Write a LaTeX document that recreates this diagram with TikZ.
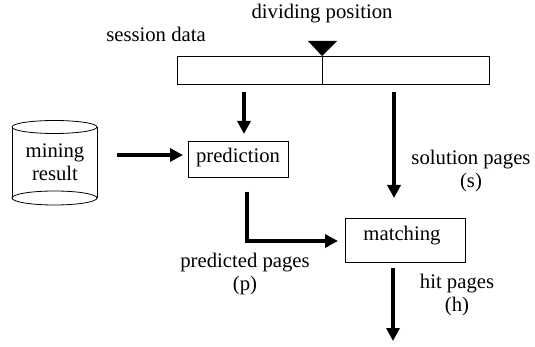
\documentclass[tikz,border=0pt]{standalone}
\usepackage{fontspec}
\setmainfont{Liberation Serif}
\usetikzlibrary{arrows.meta}
\begin{document}
\begin{tikzpicture}[x=1pt,y=-1pt,
  every node/.style={font=\fontsize{20.7}{23}\selectfont, inner sep=0pt},
  box/.style={draw, line width=0.8pt},
  arr/.style={line width=4pt, -{Triangle[length=13pt,width=13pt]}},
  lbl/.style={align=center}]
\useasboundingbox (0,0) rectangle (535,347);
% session data bar
\node[lbl] (dp) at (322,14) {dividing position};
\node[lbl] (sd) at (156,34) {session data};
\node[box, minimum width=312pt, minimum height=28pt] (bar) at (333,70) {};
\draw[line width=0.8pt] (322,56) -- (322,84);
\fill (308,41) -- (337,41) -- (322,56) -- cycle;
% cylinder
\draw[line width=0.8pt] (12,127) -- (12,198) (97,127) -- (97,198);
\draw[line width=0.8pt] (54.5,127) ellipse [x radius=42.5, y radius=6.5];
\draw[line width=0.8pt] (54.5,198) ellipse [x radius=42.5, y radius=7];
\node[lbl] (mr) at (55,162) {mining\\result};
% boxes
\node[box, minimum width=100pt, minimum height=36pt] (pred) at (238,159) {};
\node (predt) at (238,158) {prediction};
\node[box, minimum width=120pt, minimum height=44pt] (match) at (405,240) {};
\node (matcht) at (402,236) {matching};
% coordinates
\coordinate (a1) at (244,92);
\coordinate (a1e) at (244,134);
\coordinate (a2) at (394,92);
\coordinate (a2e) at (394,198);
\coordinate (m1) at (117,155);
\coordinate (m1e) at (183,155);
\coordinate (p1) at (247,192);
\coordinate (p1c) at (247,241);
\coordinate (p1e) at (338,241);
\coordinate (h1) at (393,268);
\coordinate (h1e) at (393,341);
\draw[arr] (a1) -- (a1e);
\draw[arr] (a2) -- (a2e);
\draw[arr] (m1) -- (m1e);
\draw[arr] (p1) -- (p1c) -- (p1e);
\draw[arr] (h1) -- (h1e);
% labels
\node[lbl] (sp) at (471,171) {solution pages\\(s)};
\node[lbl] (hp) at (457,295) {hit pages\\(h)};
\node[lbl] (pp) at (245,274) {predicted pages\\(p)};
\end{tikzpicture}
\end{document}
